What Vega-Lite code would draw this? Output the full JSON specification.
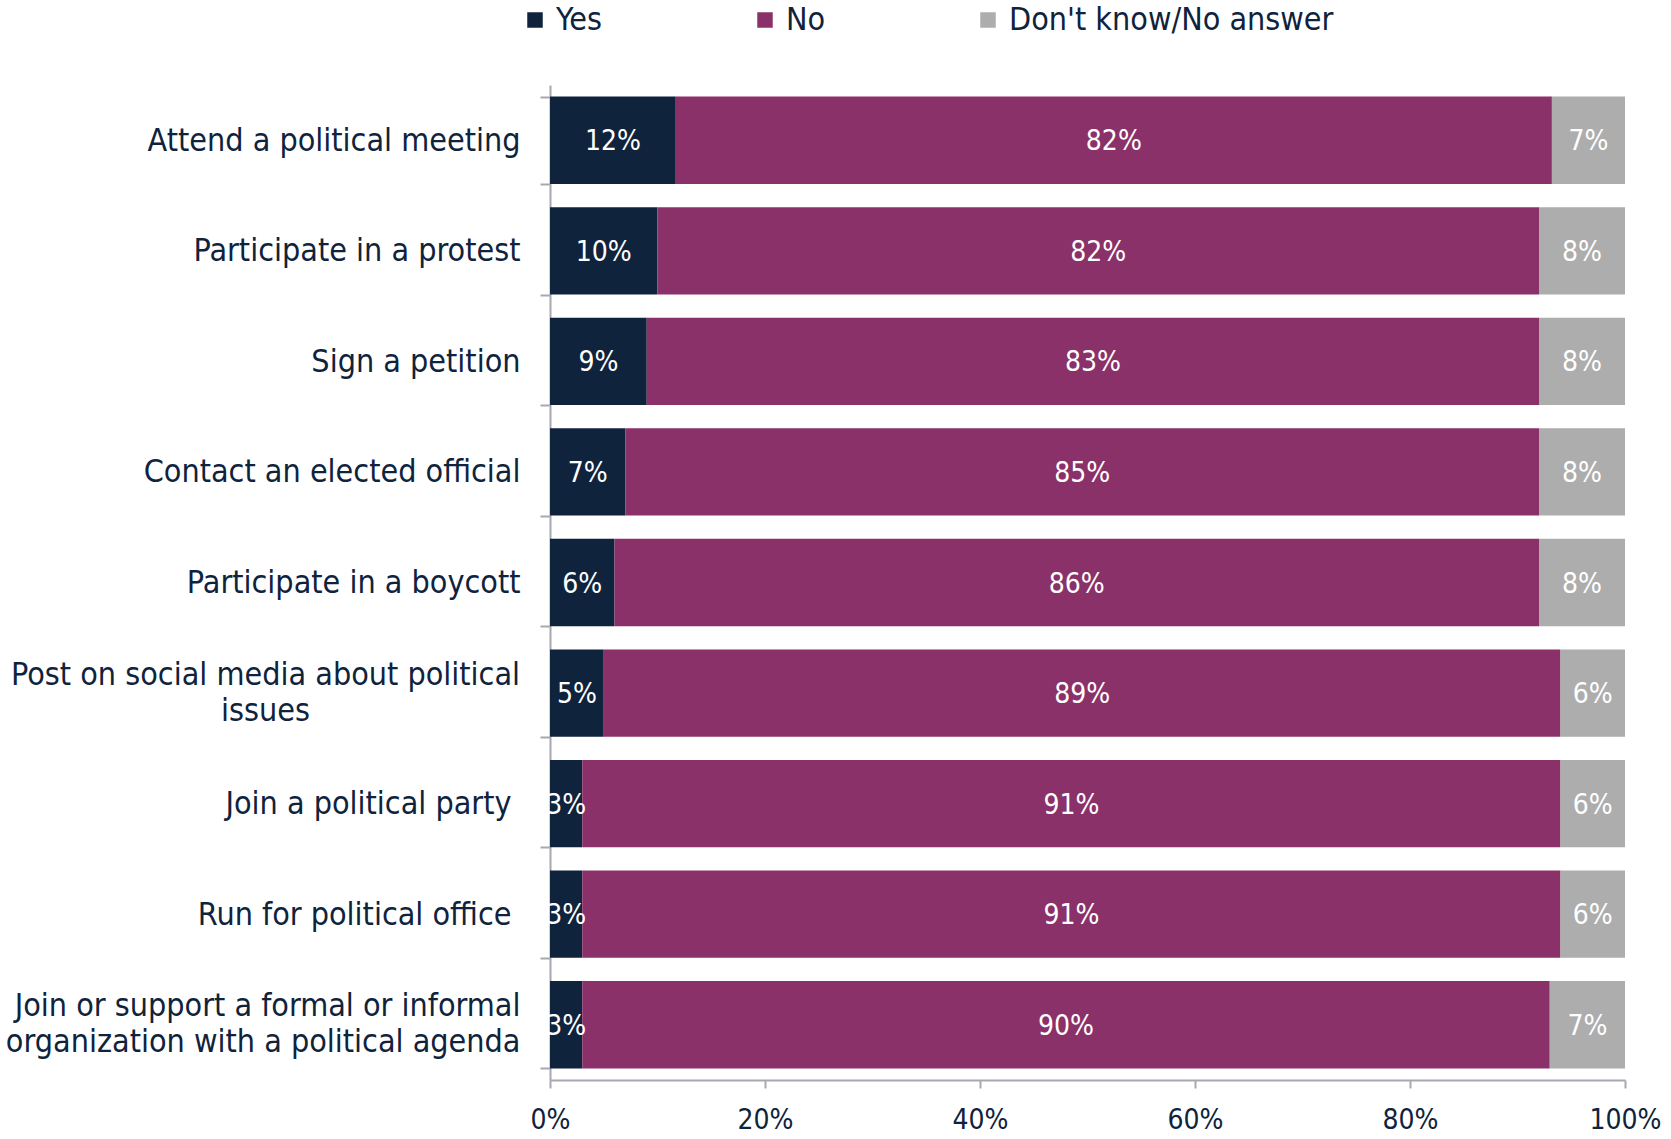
{
  "$schema": "https://vega.github.io/schema/vega-lite/v6.json",
  "width": 1075,
  "height": 995,
  "autosize": {"type": "none"},
  "padding": {"left": 550, "top": 85, "right": 46, "bottom": 59},
  "background": "white",
  "config": {"font": "DejaVu Sans Condensed", "view": {"stroke": null}},
  "data": {
    "values": [
      {"activity": "Attend a political meeting", "response": "Yes", "value": 11.7, "label": "12%"},
      {"activity": "Attend a political meeting", "response": "No", "value": 81.5, "label": "82%"},
      {"activity": "Attend a political meeting", "response": "Don't know/No answer", "value": 6.8, "label": "7%"},
      {"activity": "Participate in a protest", "response": "Yes", "value": 10, "label": "10%"},
      {"activity": "Participate in a protest", "response": "No", "value": 82, "label": "82%"},
      {"activity": "Participate in a protest", "response": "Don't know/No answer", "value": 8, "label": "8%"},
      {"activity": "Sign a petition", "response": "Yes", "value": 9, "label": "9%"},
      {"activity": "Sign a petition", "response": "No", "value": 83, "label": "83%"},
      {"activity": "Sign a petition", "response": "Don't know/No answer", "value": 8, "label": "8%"},
      {"activity": "Contact an elected official", "response": "Yes", "value": 7, "label": "7%"},
      {"activity": "Contact an elected official", "response": "No", "value": 85, "label": "85%"},
      {"activity": "Contact an elected official", "response": "Don't know/No answer", "value": 8, "label": "8%"},
      {"activity": "Participate in a boycott", "response": "Yes", "value": 6, "label": "6%"},
      {"activity": "Participate in a boycott", "response": "No", "value": 86, "label": "86%"},
      {"activity": "Participate in a boycott", "response": "Don't know/No answer", "value": 8, "label": "8%"},
      {"activity": "Post on social media about political issues", "response": "Yes", "value": 5, "label": "5%"},
      {"activity": "Post on social media about political issues", "response": "No", "value": 89, "label": "89%"},
      {"activity": "Post on social media about political issues", "response": "Don't know/No answer", "value": 6, "label": "6%"},
      {"activity": "Join a political party", "response": "Yes", "value": 3, "label": "3%"},
      {"activity": "Join a political party", "response": "No", "value": 91, "label": "91%"},
      {"activity": "Join a political party", "response": "Don't know/No answer", "value": 6, "label": "6%"},
      {"activity": "Run for political office", "response": "Yes", "value": 3, "label": "3%"},
      {"activity": "Run for political office", "response": "No", "value": 91, "label": "91%"},
      {"activity": "Run for political office", "response": "Don't know/No answer", "value": 6, "label": "6%"},
      {"activity": "Join or support a formal or informal organization with a political agenda", "response": "Yes", "value": 3, "label": "3%"},
      {"activity": "Join or support a formal or informal organization with a political agenda", "response": "No", "value": 90, "label": "90%"},
      {"activity": "Join or support a formal or informal organization with a political agenda", "response": "Don't know/No answer", "value": 7, "label": "7%"}
    ]
  },
  "transform": [
    {"stack": "value", "groupby": ["activity"], "sort": [{"field": "response", "order": "descending"}], "as": ["x0", "x1"]},
    {"calculate": "(datum.x0 + datum.x1) / 2", "as": "mid"}
  ],
  "encoding": {
    "y": {
      "field": "activity",
      "type": "nominal",
      "sort": null,
      "scale": {"paddingInner": 0.21, "paddingOuter": 0.105},
      "axis": {
        "title": null,
        "labelFontSize": 32,
        "labelColor": "#0F233D",
        "labelLimit": 0,
        "labelLineHeight": 36,
        "labelAlign": {"condition": {"test": "datum.value == 'Post on social media about political issues'", "value": "center"}, "value": "right"},
        "labelBaseline": {"condition": {"test": "datum.value == 'Post on social media about political issues' || datum.value == 'Join or support a formal or informal organization with a political agenda'", "value": "line-bottom"}, "value": "middle"},
        "labelPadding": {"condition": [
          {"test": "datum.value == 'Post on social media about political issues'", "value": 275},
          {"test": "datum.value == 'Join a political party' || datum.value == 'Run for political office'", "value": 29}
        ], "value": 20},
        "tickBand": "extent",
        "tickSize": 10,
        "tickWidth": 2,
        "tickColor": "#A8A8B0",
        "domainColor": "#A8A8B0",
        "domainWidth": 2,
        "labelExpr": "datum.value == 'Post on social media about political issues' ? ['Post on social media about political', 'issues'] : datum.value == 'Join or support a formal or informal organization with a political agenda' ? ['Join or support a formal or informal', 'organization with a political agenda'] : datum.value"
      }
    }
  },
  "layer": [
    {
      "mark": {"type": "bar"},
      "encoding": {
        "x": {
          "field": "x0",
          "type": "quantitative",
          "scale": {"domain": [0, 100], "nice": false},
          "axis": {
            "title": null,
            "values": [0, 20, 40, 60, 80, 100],
            "labelExpr": "datum.value + '%'",
            "labelFontSize": 28,
            "labelColor": "#0F233D",
            "labelFlush": false,
            "labelPadding": 18,
            "tickSize": 8,
            "tickWidth": 2,
            "tickColor": "#A8A8B0",
            "domainColor": "#A8A8B0",
            "domainWidth": 2,
            "grid": false
          }
        },
        "x2": {"field": "x1"},
        "color": {
          "field": "response",
          "type": "nominal",
          "scale": {"domain": ["Yes", "No", "Don't know/No answer"], "range": ["#0F233D", "#8B3169", "#ADADAD"]},
          "legend": {
            "orient": "none",
            "legendX": -31,
            "legendY": -81,
            "direction": "horizontal",
            "title": null,
            "symbolType": "square",
            "symbolSize": 240,
            "symbolStrokeWidth": 0,
            "labelFontSize": 32,
            "labelColor": "#0F233D",
            "labelLimit": 0,
            "labelOffset": 5,
            "columnPadding": 146,
            "padding": 0
          }
        }
      }
    },
    {
      "mark": {"type": "text", "color": "white", "fontSize": 28, "dy": 2},
      "encoding": {
        "x": {"field": "mid", "type": "quantitative"},
        "text": {"field": "label"}
      }
    }
  ]
}
